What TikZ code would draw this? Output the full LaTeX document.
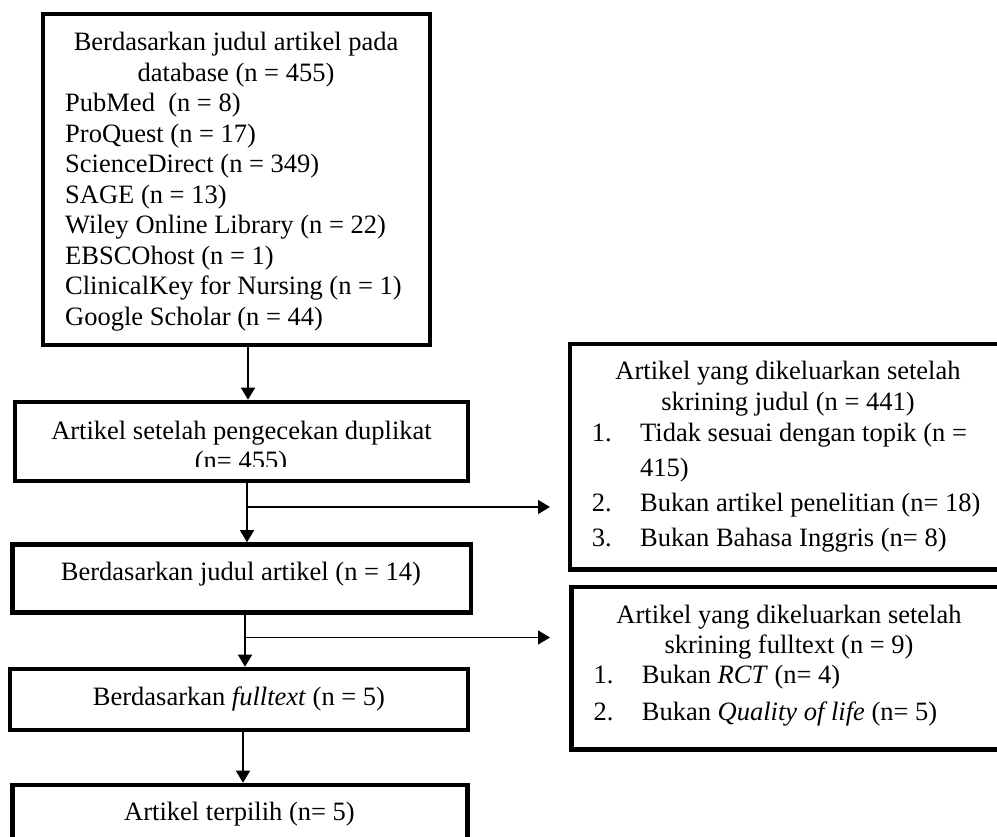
\documentclass[tikz,border=0pt]{standalone}
\usepackage{fontspec}
\setmainfont{Liberation Serif}
\usetikzlibrary{arrows.meta}
\begin{document}
\begin{tikzpicture}[x=1pt,y=-1pt,
  box/.style={draw, line width=4.6pt, rectangle, inner sep=0pt},
  txt/.style={inner sep=0pt, font=\fontsize{26.5}{30.5}\selectfont},
  arr/.style={line width=1.4pt, -{Triangle[width=14pt,length=12pt]}}]
\clip (0,0) rectangle (997,837);
% boxes
\node[box, minimum width=387pt, minimum height=331pt] (b1) at (236.5,179.5) {};
\node[box, minimum width=453pt, minimum height=79pt] (b2) at (241.5,441.5) {};
\node[box, minimum width=458.5pt, minimum height=68pt] (b3) at (241.75,578.5) {};
\node[box, minimum width=458pt, minimum height=61pt] (b4) at (239,699.5) {};
\node[box, minimum width=455pt, minimum height=85pt] (b5) at (240,827.5) {};
\node[box, minimum width=450pt, minimum height=225.5pt] (r1) at (795,456.75) {};
\node[box, minimum width=448.5pt, minimum height=162.5pt] (r2) at (795.75,668.25) {};
% box 1 text
\node[txt, anchor=base] (h1) at (236,50.7) {Berdasarkan judul artikel pada};
\node[txt, anchor=base] (h2) at (236,81.2) {database (n = 455)};
\node[txt, anchor=base west] (l1) at (65,111.7) {PubMed\ \ (n = 8)};
\node[txt, anchor=base west] (l2) at (65,142.2) {ProQuest (n = 17)};
\node[txt, anchor=base west] (l3) at (65,172.7) {ScienceDirect (n = 349)};
\node[txt, anchor=base west] (l4) at (65,203.2) {SAGE (n = 13)};
\node[txt, anchor=base west] (l5) at (65,233.7) {Wiley Online Library (n = 22)};
\node[txt, anchor=base west] (l6) at (65,264.2) {EBSCOhost (n = 1)};
\node[txt, anchor=base west] (l7) at (65,294.7) {ClinicalKey for Nursing (n = 1)};
\node[txt, anchor=base west] (l8) at (65,325.2) {Google Scholar (n = 44)};
% box 2 text
\node[txt, anchor=base] (t2a) at (241.5,439) {Artikel setelah pengecekan duplikat};
\begin{scope}
\clip (15,402) rectangle (468,466.5);
\node[txt, anchor=base] (t2b) at (241,469.5) {(n= 455)};
\end{scope}
% box 3-5 text
\node[txt, anchor=base] (t3) at (241,580) {Berdasarkan judul artikel (n = 14)};
\node[txt, anchor=base] (t4) at (239,705) {Berdasarkan \textit{fulltext} (n = 5)};
\node[txt, anchor=base] (t5) at (239.5,820.7) {Artikel terpilih (n= 5)};
% right box 1 text
\node[txt, anchor=base] (ra1) at (788,379.3) {Artikel yang dikeluarkan setelah};
\node[txt, anchor=base] (ra2) at (788,410) {skrining judul (n = 441)};
\node[txt, anchor=base west] (rn1) at (591.7,441.7) {1.};
\node[txt, anchor=base west] (ri1) at (640,441.7) {Tidak sesuai dengan topik (n =};
\node[txt, anchor=base west] (ri1b) at (640,476.7) {415)};
\node[txt, anchor=base west] (rn2) at (591.7,511.7) {2.};
\node[txt, anchor=base west] (ri2) at (640,511.7) {Bukan artikel penelitian (n= 18)};
\node[txt, anchor=base west] (rn3) at (591.7,546.7) {3.};
\node[txt, anchor=base west] (ri3) at (640,546.7) {Bukan Bahasa Inggris (n= 8)};
% right box 2 text
\node[txt, anchor=base] (sa1) at (789,623.3) {Artikel yang dikeluarkan setelah};
\node[txt, anchor=base] (sa2) at (789,653.3) {skrining fulltext (n = 9)};
\node[txt, anchor=base west] (sn1) at (593.3,683.3) {1.};
\node[txt, anchor=base west] (si1) at (641.7,683.3) {Bukan \textit{RCT} (n= 4)};
\node[txt, anchor=base west] (sn2) at (593.3,720) {2.};
\node[txt, anchor=base west] (si2) at (641.7,720) {Bukan \textit{Quality of life} (n= 5)};
% connectors
\coordinate (p1) at (248,0);
\coordinate (p2) at (247,0);
\coordinate (p3) at (245,0);
\coordinate (p4) at (243,0);
\draw[arr] (b1.south -| p1) -- (b2.north -| p1);
\draw[arr] (b2.south -| p2) -- (b3.north -| p2);
\draw[arr] (b3.south -| p3) -- (b4.north -| p3);
\draw[arr] (b4.south -| p4) -- (b5.north -| p4);
\coordinate (j1) at (247,507);
\coordinate (e1) at (550,507);
\coordinate (j2) at (245,637.5);
\coordinate (e2) at (550,637.5);
\draw[arr] (j1) -- (e1);
\draw[arr] (j2) -- (e2);
\end{tikzpicture}
\end{document}
